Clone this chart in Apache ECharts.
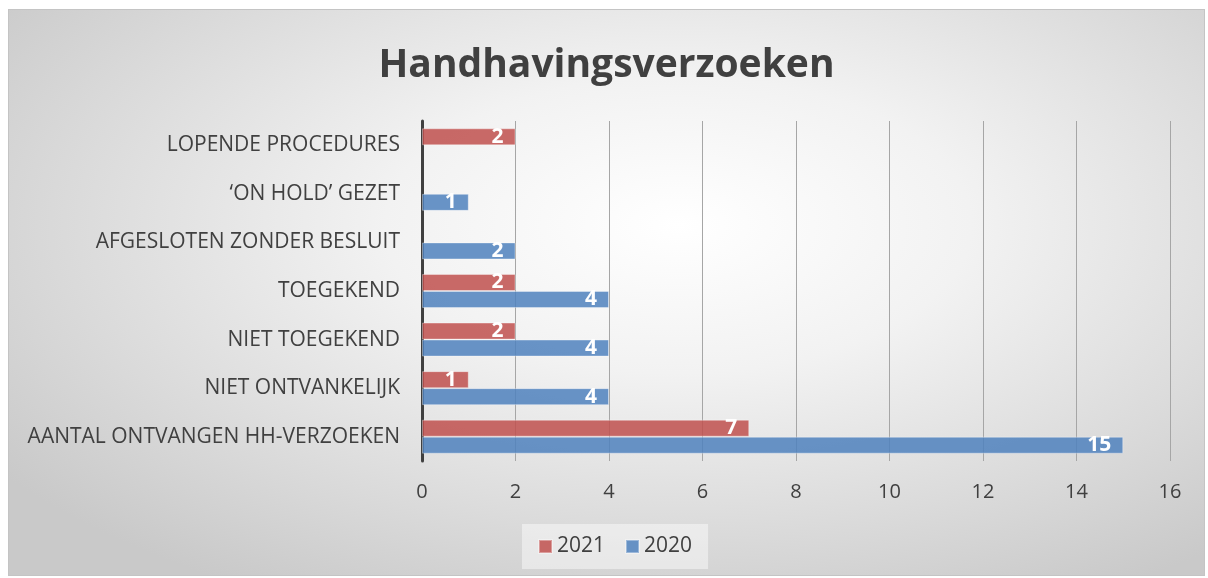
<!DOCTYPE html>
<html>
<head>
<meta charset="UTF-8">
<title>Handhavingsverzoeken</title>
<script src="https://cdn.jsdelivr.net/npm/echarts@6/dist/echarts.min.js"></script>
<style>
  html, body { margin: 0; padding: 0; background: #fff; }
  #main {
    position: absolute; left: 8px; top: 9px;
    width: 1197px; height: 567px;
    border: 1px solid #c4c4c4; box-sizing: border-box;
    background: radial-gradient(ellipse 70% 75% at 56% 38%, #ffffff 0%, #f2f2f2 35%, #d9d9d9 75%, #c9c9c9 100%);
  }
</style>
</head>
<body>
<div id="main"></div>
<script>
// categories, bottom to top
var categories = [
  'AANTAL ONTVANGEN HH-VERZOEKEN',
  'NIET ONTVANKELIJK',
  'NIET TOEGEKEND',
  'TOEGEKEND',
  'AFGESLOTEN ZONDER BESLUIT',
  '\u2018ON HOLD\u2019 GEZET',
  'LOPENDE PROCEDURES'
];
var values2021 = [7, 1, 2, 2, null, null, 2];
var values2020 = [15, 4, 4, 4, 2, 1, null];
var xTicks = [0, 2, 4, 6, 8, 10, 12, 14, 16];

var myChart = echarts.init(document.getElementById('main'));

var labelStyle = {
  show: true,
  position: 'insideRight',
  distance: 12,
  color: '#fff',
  fontWeight: 'bold',
  fontSize: 21,
  fontFamily: 'Open Sans'
};

var option = {
  backgroundColor: 'transparent',
  textStyle: { fontFamily: 'Open Sans' },
  title: {
    text: 'Handhavingsverzoeken',
    left: 'center',
    top: 31,
    textStyle: { fontSize: 39, fontWeight: 'bold', color: '#404040', fontFamily: 'Open Sans' }
  },
  legend: {
    data: ['2021', '2020'],
    bottom: 6,
    left: 513,
    itemWidth: 13,
    itemHeight: 13,
    itemGap: 20,
    icon: 'rect',
    padding: [12, 16, 12, 16],
    backgroundColor: 'rgba(255,255,255,0.45)',
    textStyle: { fontSize: 21, color: '#404040', fontFamily: 'Open Sans' }
  },
  grid: { left: 413, right: 34, top: 111, bottom: 114, containLabel: false },
  xAxis: {
    type: 'value',
    min: xTicks[0],
    max: xTicks[xTicks.length - 1],
    interval: 2,
    axisLine: { show: false },
    axisTick: { show: false },
    axisLabel: { color: '#404040', fontSize: 20, margin: 21 },
    splitLine: { lineStyle: { color: '#a6a6a6', width: 1 } }
  },
  yAxis: {
    type: 'category',
    data: categories,
    axisLine: { lineStyle: { color: '#404040', width: 3 } },
    axisTick: { show: false },
    axisLabel: { color: '#404040', fontSize: 21, margin: 22, padding: [5, 0, 0, 0] }
  },
  series: [
    {
      name: '2021',
      type: 'bar',
      data: values2021,
      barGap: '0%',
      barCategoryGap: '30%',
      itemStyle: { color: 'rgba(192,80,77,0.85)', borderColor: 'rgba(255,255,255,0.35)', borderWidth: 1 },
      label: labelStyle
    },
    {
      name: '2020',
      type: 'bar',
      data: values2020,
      barGap: '0%',
      barCategoryGap: '30%',
      itemStyle: { color: 'rgba(79,129,189,0.85)', borderColor: 'rgba(255,255,255,0.35)', borderWidth: 1 },
      label: labelStyle
    }
  ]
};

myChart.setOption(option);
</script>
</body>
</html>
